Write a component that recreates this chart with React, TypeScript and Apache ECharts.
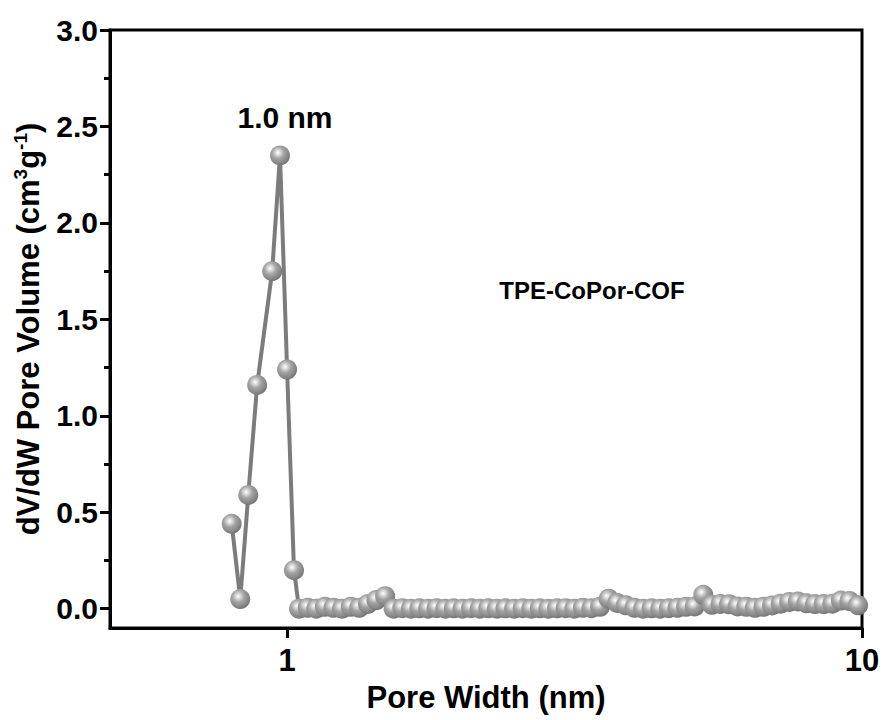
import React, { useEffect, useRef } from "react";
import * as echarts from "echarts";

// Pore width (nm) and dV/dW pore volume (cm3 g-1)
const poreWidth = [
  0.801, 0.829, 0.856, 0.887, 0.942, 0.972, 1.0, 1.028,
  1.049, 1.086, 1.124, 1.163, 1.204, 1.246, 1.29, 1.335, 1.382, 1.43,
  1.481, 1.532, 1.586, 1.642, 1.699, 1.759, 1.82, 1.884, 1.95, 2.019,
  2.089, 2.163, 2.238, 2.317, 2.398, 2.482, 2.569, 2.659, 2.752, 2.848,
  2.948, 3.052, 3.159, 3.269, 3.384, 3.502, 3.625, 3.752, 3.884, 4.02,
  4.161, 4.306, 4.457, 4.614, 4.775, 4.943, 5.116, 5.295, 5.481, 5.673,
  5.871, 6.077, 6.29, 6.511, 6.739, 6.975, 7.219, 7.472, 7.734, 8.005,
  8.286, 8.576, 8.877, 9.188, 9.51, 9.843,
];
const poreVolume = [
  0.44, 0.05, 0.59, 1.16, 1.75, 2.35, 1.24, 0.2,
  0.0, 0.005, 0.0, 0.01, 0.005, 0.0, 0.01, 0.005, 0.025, 0.045,
  0.065, 0.0, 0.003, 0.0, 0.002, 0.0, 0.003, 0.0, 0.002, 0.0,
  0.003, 0.0, 0.002, 0.0, 0.002, 0.0, 0.003, 0.0, 0.002, 0.0,
  0.002, 0.003, 0.0, 0.005, 0.003, 0.01, 0.052, 0.03, 0.018, 0.005,
  0.0, 0.002, 0.0, 0.003, 0.005, 0.01, 0.012, 0.072, 0.02, 0.025,
  0.023, 0.012, 0.01, 0.005, 0.01, 0.017, 0.026, 0.035, 0.038, 0.028,
  0.024, 0.024, 0.026, 0.042, 0.04, 0.018,
];

const xTickValues = [1, 10];
const yTickValues = [0, 0.5, 1.0, 1.5, 2.0, 2.5, 3.0];
const yMinorTickValues = [0.25, 0.75, 1.25, 1.75, 2.25, 2.75];

const sampleName = "TPE-CoPor-COF";
const peakLabel = "1.0 nm";

const FONT = "'Liberation Sans', Arial, sans-serif";

export default function App() {
  const ref = useRef<HTMLDivElement>(null);

  useEffect(() => {
    if (!ref.current) return;
    const chart = echarts.init(ref.current, null, { renderer: "svg" });

    const data = poreWidth.map((w, i) => [w, poreVolume[i]]);

    const sphere = new echarts.graphic.RadialGradient(0.4, 0.36, 0.66, [
      { offset: 0, color: "#ffffff" },
      { offset: 0.14, color: "#e4e4e4" },
      { offset: 0.45, color: "#a4a4a4" },
      { offset: 0.8, color: "#878787" },
      { offset: 1, color: "#727272" },
    ]);

    const option: any = {
      animation: false,
      backgroundColor: "#ffffff",
      grid: {
        left: 110,
        right: 21,
        top: 30,
        bottom: 92,
        show: true,
        borderColor: "#000",
        borderWidth: 3,
        backgroundColor: "transparent",
      },
      xAxis: {
        type: "log",
        logBase: 10,
        min: 0.492,
        max: 10,
        axisLine: { onZero: false, lineStyle: { color: "#000", width: 3 } },
        axisTick: {
          length: 10,
          customValues: xTickValues,
          lineStyle: { color: "#000", width: 3 },
        },
        axisLabel: {
          customValues: xTickValues,
          formatter: (v: number) => String(v),
          fontSize: 31,
          fontWeight: "bold",
          fontFamily: FONT,
          color: "#000",
          margin: 17,
        },
        splitLine: { show: false },
        minorTick: { show: false },
        name: "Pore Width (nm)",
        nameLocation: "middle",
        nameGap: 54,
        nameTextStyle: {
          fontSize: 31,
          fontWeight: "bold",
          fontFamily: FONT,
          color: "#000",
        },
      },
      yAxis: [
        {
          type: "value",
          min: -0.1,
          max: 3.0,
          axisLine: { show: true, onZero: false, lineStyle: { color: "#000", width: 3 } },
          axisTick: {
            show: true,
            length: 10,
            customValues: yTickValues,
            lineStyle: { color: "#000", width: 3 },
          },
          axisLabel: {
            customValues: yTickValues,
            formatter: (v: number) => v.toFixed(1),
            fontSize: 30,
            fontWeight: "bold",
            fontFamily: FONT,
            color: "#000",
            margin: 12,
          },
          splitLine: { show: false },
          name: "dV/dW Pore Volume (cm{sup|3}g{sup|-1})",
          nameLocation: "middle",
          nameGap: 52,
          nameRotate: 90,
          nameTextStyle: {
            fontSize: 31,
            fontWeight: "bold",
            fontFamily: FONT,
            color: "#000",
            lineHeight: 34,
            rich: {
              sup: {
                fontSize: 19,
                fontWeight: "bold",
                fontFamily: FONT,
                color: "#000",
                verticalAlign: "top",
                lineHeight: 34,
              },
            },
          },
        },
        {
          type: "value",
          min: -0.1,
          max: 3.0,
          position: "left",
          offset: 0,
          axisLine: { show: false, onZero: false },
          axisTick: {
            show: true,
            length: 6,
            customValues: yMinorTickValues,
            lineStyle: { color: "#000", width: 3 },
          },
          axisLabel: { show: false },
          splitLine: { show: false },
        },
      ],
      series: [
        {
          type: "line",
          data,
          xAxisIndex: 0,
          yAxisIndex: 0,
          symbol: "circle",
          symbolSize: 20,
          showAllSymbol: true,
          clip: true,
          lineStyle: { color: "#7c7c7c", width: 4 },
          itemStyle: { color: sphere, borderWidth: 0 },
          emphasis: { disabled: true },
        },
      ],
      graphic: [
        {
          type: "text",
          x: 285,
          y: 117,
          style: {
            text: peakLabel,
            fontSize: 30,
            fontWeight: "bold",
            fontFamily: FONT,
            fill: "#000",
            align: "center",
            verticalAlign: "middle",
          },
        },
        {
          type: "text",
          x: 592,
          y: 290,
          style: {
            text: sampleName,
            fontSize: 24,
            fontWeight: "bold",
            fontFamily: FONT,
            fill: "#000",
            align: "center",
            verticalAlign: "middle",
          },
        },
      ],
    };

    chart.setOption(option);
    return () => chart.dispose();
  }, []);

  return (
    <div
      ref={ref}
      style={{ position: "fixed", left: 0, top: 0, width: 883, height: 720 }}
    />
  );
}
